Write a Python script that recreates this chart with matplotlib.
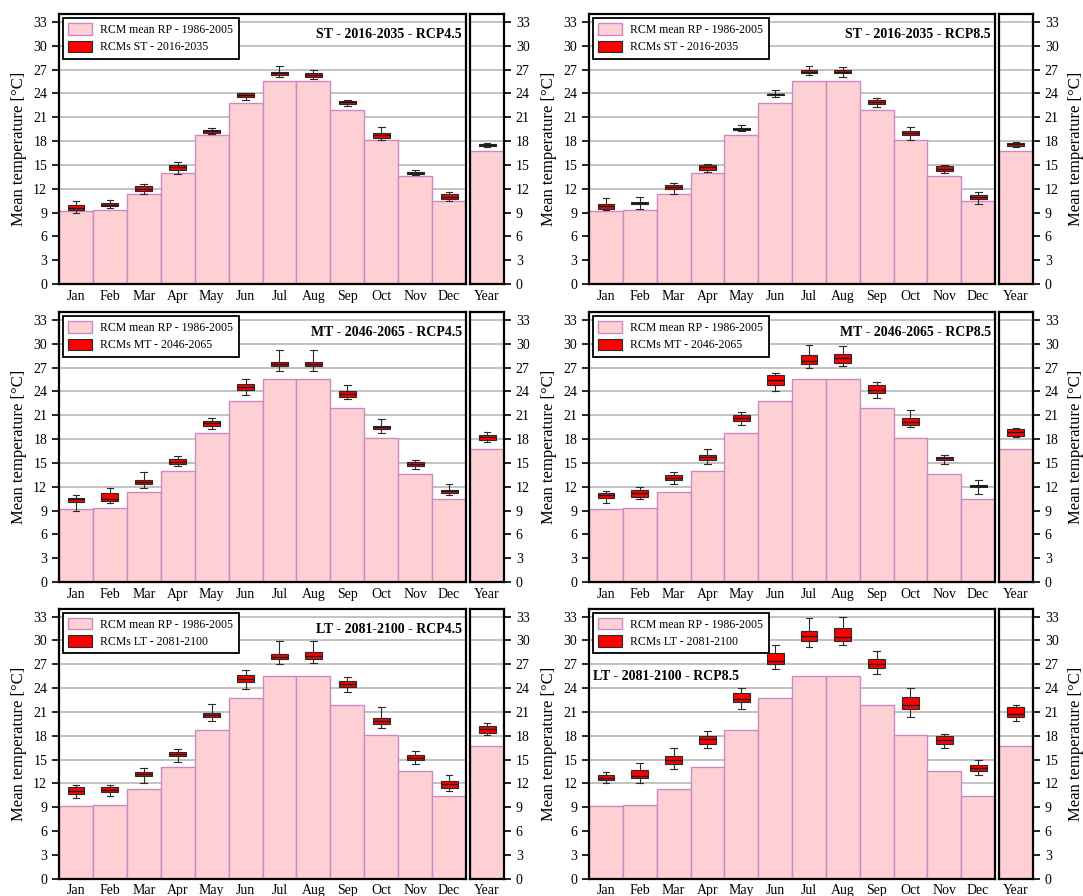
import matplotlib
matplotlib.use("Agg")
import matplotlib.pyplot as plt
from matplotlib.patches import Patch

plt.rcParams['font.family'] = ['Liberation Serif', 'DejaVu Serif']

months = ['Jan', 'Feb', 'Mar', 'Apr', 'May', 'Jun', 'Jul', 'Aug', 'Sep', 'Oct', 'Nov', 'Dec']
rp_monthly = [9.2, 9.3, 11.3, 14.0, 18.7, 22.8, 25.5, 25.5, 21.9, 18.1, 13.6, 10.4]
rp_year = 16.7
rp_label = 'RCM mean RP - 1986-2005'

# (whisker low, q1, median, q3, whisker high) for Jan..Dec, then Year
st_45 = [(9.0, 9.3, 9.6, 9.9, 10.4), (9.6, 9.8, 10.0, 10.2, 10.6), (11.3, 11.7, 12.0, 12.3, 12.6),
         (13.9, 14.3, 14.7, 15.0, 15.3), (18.9, 19.0, 19.2, 19.4, 19.7), (23.2, 23.6, 23.8, 24.0, 24.1),
         (26.0, 26.3, 26.5, 26.7, 27.5), (25.8, 26.0, 26.3, 26.5, 27.0), (22.4, 22.7, 22.9, 23.0, 23.2),
         (18.1, 18.4, 18.7, 19.0, 19.8), (13.7, 13.9, 14.0, 14.1, 14.4), (10.4, 10.7, 11.0, 11.3, 11.6),
         (17.2, 17.4, 17.5, 17.6, 17.8)]
st_85 = [(9.3, 9.4, 9.8, 10.1, 10.8), (9.5, 10.1, 10.2, 10.3, 10.9), (11.3, 11.9, 12.2, 12.5, 12.7),
         (14.1, 14.4, 14.7, 15.0, 15.1), (19.3, 19.4, 19.5, 19.6, 20.0), (23.5, 23.8, 23.9, 23.9, 24.4),
         (26.3, 26.6, 26.7, 26.9, 27.4), (26.0, 26.5, 26.7, 26.9, 27.3), (22.3, 22.6, 22.9, 23.2, 23.4),
         (18.1, 18.7, 19.0, 19.2, 19.8), (14.0, 14.2, 14.5, 14.8, 15.0), (10.1, 10.7, 10.9, 11.2, 11.6),
         (17.3, 17.4, 17.6, 17.8, 17.9)]
mt_45 = [(9.0, 10.1, 10.4, 10.6, 10.9), (9.9, 10.2, 10.4, 11.2, 11.8), (11.8, 12.3, 12.55, 12.8, 13.8),
         (14.6, 14.8, 15.15, 15.5, 15.9), (19.2, 19.7, 20.0, 20.3, 20.7), (23.6, 24.2, 24.6, 24.9, 25.5),
         (26.6, 27.2, 27.5, 27.7, 29.2), (26.5, 27.2, 27.5, 27.7, 29.2), (23.1, 23.3, 23.7, 24.0, 24.8),
         (18.7, 19.2, 19.5, 19.7, 20.5), (14.2, 14.6, 14.85, 15.1, 15.4), (10.9, 11.2, 11.4, 11.6, 12.4),
         (17.6, 17.9, 18.2, 18.5, 18.9)]
mt_85 = [(9.9, 10.6, 10.9, 11.25, 11.4), (10.4, 10.75, 11.2, 11.6, 11.9), (12.3, 12.8, 13.1, 13.5, 13.8),
         (14.8, 15.4, 15.7, 16.0, 16.7), (19.8, 20.3, 20.6, 21.0, 21.4), (24.0, 24.85, 25.4, 26.0, 26.3),
         (26.9, 27.5, 27.8, 28.6, 29.8), (27.2, 27.6, 28.2, 28.7, 29.7), (23.2, 23.85, 24.2, 24.85, 25.2),
         (19.5, 19.8, 20.1, 20.7, 21.6), (14.8, 15.4, 15.55, 15.7, 16.0), (11.05, 11.9, 12.05, 12.25, 12.85),
         (18.2, 18.4, 18.9, 19.3, 19.4)]
lt_45 = [(10.2, 10.7, 11.1, 11.5, 11.8), (10.4, 10.9, 11.2, 11.5, 11.8), (12.1, 12.9, 13.15, 13.4, 13.95),
         (14.7, 15.4, 15.7, 16.0, 16.3), (19.9, 20.3, 20.6, 20.9, 22.0), (23.9, 24.8, 25.15, 25.6, 26.3),
         (27.0, 27.6, 27.9, 28.3, 29.9), (27.1, 27.65, 28.0, 28.5, 29.9), (23.5, 24.1, 24.5, 24.9, 25.4),
         (19.0, 19.5, 19.9, 20.2, 21.55), (14.45, 14.9, 15.25, 15.6, 16.1), (11.0, 11.45, 11.9, 12.3, 13.1),
         (18.1, 18.3, 18.8, 19.2, 19.6)]
lt_85 = [(12.1, 12.4, 12.7, 13.1, 13.4), (12.1, 12.65, 12.95, 13.7, 14.5), (13.8, 14.4, 14.9, 15.4, 16.4),
         (16.5, 16.9, 17.6, 17.96, 18.6), (21.3, 22.2, 22.6, 23.35, 24.0), (26.4, 27.0, 27.4, 28.4, 29.4),
         (29.2, 29.95, 30.5, 31.2, 32.8), (29.4, 29.95, 30.45, 31.5, 33.0), (25.8, 26.5, 27.0, 27.7, 28.7),
         (20.3, 21.3, 21.9, 22.85, 24.05), (16.5, 16.9, 17.4, 17.96, 18.25), (13.0, 13.5, 13.9, 14.3, 14.95),
         (19.9, 20.3, 20.7, 21.6, 21.9)]

bar_face = '#FFD0D3'
bar_edge = '#C98AC4'
yticks = list(range(0, 34, 3))

fig = plt.figure(figsize=(10.83, 8.96), dpi=100)

# figure-fraction geometry of the panels
col_main = [(0.0545, 0.3758), (0.5439, 0.3749)]
col_year = [(0.4340, 0.0314), (0.9224, 0.0314)]
row_bottom = [0.683, 0.3504, 0.0193]
row_h = 0.3015

panels = [
    (0, 0, st_45, 'RCMs ST - 2016-2035', 'ST - 2016-2035 - RCP4.5', 'right'),
    (0, 1, st_85, 'RCMs ST - 2016-2035', 'ST - 2016-2035 - RCP8.5', 'right'),
    (1, 0, mt_45, 'RCMs MT - 2046-2065', 'MT - 2046-2065 - RCP4.5', 'right'),
    (1, 1, mt_85, 'RCMs MT - 2046-2065', 'MT - 2046-2065 - RCP8.5', 'right'),
    (2, 0, lt_45, 'RCMs LT - 2081-2100', 'LT - 2081-2100 - RCP4.5', 'right'),
    (2, 1, lt_85, 'RCMs LT - 2081-2100', 'LT - 2081-2100 - RCP8.5', 'left'),
]


def to_stats(rows):
    return [dict(whislo=r[0], q1=r[1], med=r[2], q3=r[3], whishi=r[4], fliers=[]) for r in rows]


def draw_boxes(ax, rows, positions):
    ax.bxp(to_stats(rows), positions=positions, widths=0.5, capwidths=0.2,
           patch_artist=True, showfliers=False, manage_ticks=False, zorder=3,
           boxprops=dict(facecolor='#FF0000', edgecolor='#2a2a2a', linewidth=0.8),
           medianprops=dict(color='#1a1a1a', linewidth=1.0),
           whiskerprops=dict(color='#2a2a2a', linewidth=0.8),
           capprops=dict(color='#2a2a2a', linewidth=0.8))


def style_axis(ax):
    ax.set_ylim(0, 34)
    ax.set_yticks(yticks)
    ax.yaxis.grid(True, color='#BDBDBD', linewidth=1.3)
    ax.set_axisbelow(True)
    for s in ax.spines.values():
        s.set_linewidth(1.6)
        s.set_color('black')
    ax.tick_params(axis='x', length=0, pad=4, labelsize=10)
    ax.tick_params(axis='y', direction='out', length=5, width=1.2, labelsize=10)


for row, col, rows, fut_label, title, tpos in panels:
    b = row_bottom[row]
    ax = fig.add_axes([col_main[col][0], b, col_main[col][1], row_h])
    ay = fig.add_axes([col_year[col][0], b, col_year[col][1], row_h])

    x = list(range(len(months)))
    ax.bar(x, rp_monthly, width=1.0, color=bar_face, edgecolor=bar_edge, linewidth=1.0, zorder=2)
    draw_boxes(ax, rows[:12], x)
    ax.set_xlim(-0.5, 11.5)
    ax.set_xticks(x)
    ax.set_xticklabels(months)
    style_axis(ax)
    ax.set_ylabel('Mean temperature [°C]', fontsize=12)
    ax.yaxis.set_label_coords(-0.078, 0.5)

    ay.bar([0], [rp_year], width=1.0, color=bar_face, edgecolor=bar_edge, linewidth=1.0, zorder=2)
    draw_boxes(ay, rows[12:], [0])
    ay.set_xlim(-0.5, 0.5)
    ay.set_xticks([0])
    ay.set_xticklabels(['Year'])
    style_axis(ay)
    ay.yaxis.tick_right()
    ay.tick_params(axis='y', left=False, labelleft=False)
    if col == 1:
        # the left column's right-hand label sits where the right column's left label is
        ay.yaxis.set_label_position('right')
        ay.set_ylabel('Mean temperature [°C]', fontsize=12)
        ay.yaxis.set_label_coords(2.03, 0.5)

    handles = [Patch(facecolor=bar_face, edgecolor=bar_edge, linewidth=1.0),
               Patch(facecolor='#FF0000', edgecolor='#2a2a2a', linewidth=0.8)]
    leg = ax.legend(handles, [rp_label, fut_label], loc='upper left', fontsize=8.5,
                    fancybox=False, framealpha=1, edgecolor='black',
                    handlelength=2.0, handleheight=1.1, handletextpad=0.7,
                    labelspacing=0.4, borderaxespad=0.35, borderpad=0.45)
    leg.get_frame().set_linewidth(1.3)
    leg.set_zorder(5)

    if tpos == 'right':
        ax.text(11.38, 31.4, title, ha='right', va='center', fontsize=10, fontweight='bold', zorder=6)
    else:
        ax.text(-0.38, 25.5, title, ha='left', va='center', fontsize=10, fontweight='bold', zorder=6)

fig.savefig('out.png', dpi=100)
